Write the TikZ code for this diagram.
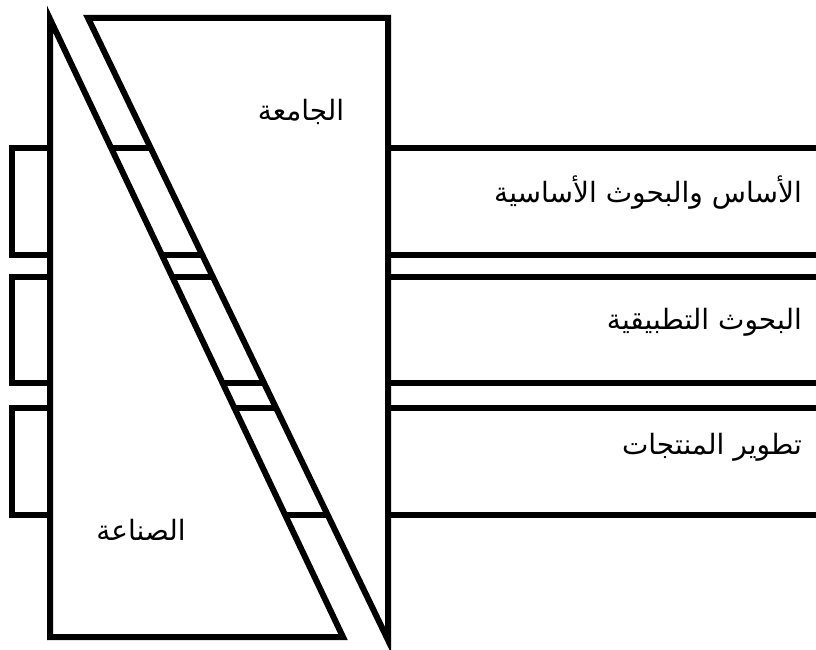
\documentclass[tikz,border=0pt]{standalone}
\usepackage{fontspec}
\newfontfamily\arabicfont[Script=Arabic]{DejaVu Sans}
\TeXXeTstate=1
\begin{document}
\begin{tikzpicture}[x=1pt,y=-1pt,
  outline/.style={line width=6pt,line join=miter,draw=black},
  wedge/.style={outline,fill=white},
  lbl/.style={font=\arabicfont\fontsize{28}{32}\selectfont,inner sep=0pt}]
\useasboundingbox (0,0) rectangle (816,650);
\clip (0,0) rectangle (816,650);
% bands
\draw[outline] (12,148) rectangle (840,255);
\draw[outline] (12,277) rectangle (840,383);
\draw[outline] (12,408) rectangle (840,515);
% industry shape
\draw[wedge] (50,19) -- (50,637) -- (343,637) -- cycle;
% university shape
\draw[wedge] (88,18) -- (388,18) -- (388,640) -- cycle;
% labels
\node[lbl] (uni) at (301,112) {\beginR الجامعة\endR};
\node[lbl] (ind) at (141,530) {\beginR الصناعة\endR};
\node[lbl,anchor=east] (basic) at (802,193) {\beginR الأساس والبحوث الأساسية\endR};
\node[lbl,anchor=east] (applied) at (802,322) {\beginR البحوث التطبيقية\endR};
\node[lbl,anchor=east] (dev) at (802,447) {\beginR تطوير المنتجات\endR};
\end{tikzpicture}
\end{document}
